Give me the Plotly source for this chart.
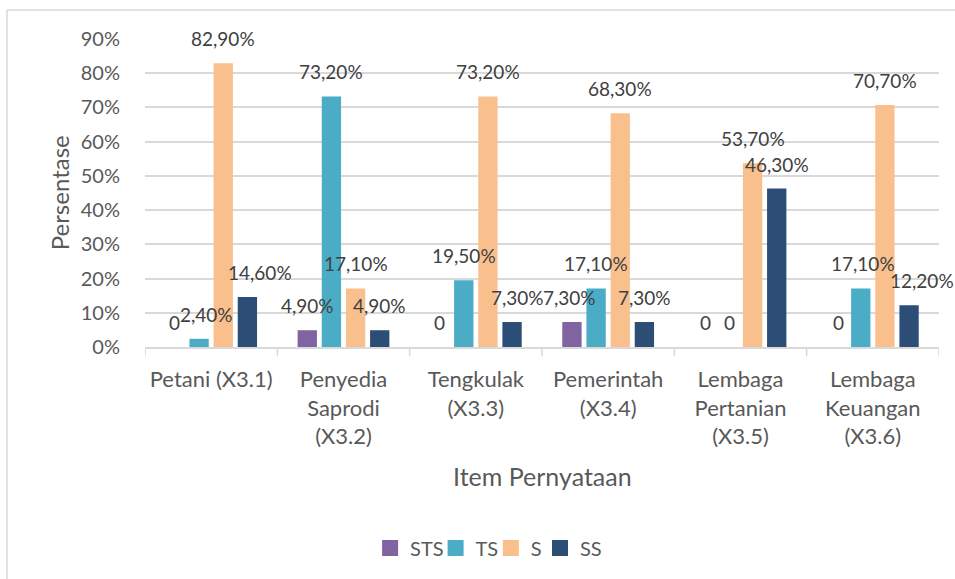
import plotly.graph_objects as go

categories = ["Petani (X3.1)", "Penyedia<br>Saprodi<br>(X3.2)", "Tengkulak<br>(X3.3)",
              "Pemerintah<br>(X3.4)", "Lembaga<br>Pertanian<br>(X3.5)", "Lembaga<br>Keuangan<br>(X3.6)"]
series_names = ["STS", "TS", "S", "SS"]
sts = [0.0, 4.9, 0.0, 7.3, 0.0, 0.0]
ts = [2.4, 73.2, 19.5, 17.1, 0.0, 17.1]
s = [82.9, 17.1, 73.2, 68.3, 53.7, 70.7]
ss = [14.6, 4.9, 7.3, 7.3, 46.3, 12.2]
y_ticks = [0, 10, 20, 30, 40, 50, 60, 70, 80, 90]

colors = ["#8064A2", "#4BACC6", "#F9C08E", "#2C4D75"]
# label horizontal nudges (px) per series per category, as placed in the reference
label_dx = [[0, 0, 0, -2, 1, 2],
            [7, 0, 0, 0, 1, 2],
            [0, 0, 0, 0, 0, 0],
            [13, 0, 5, 0, 0, 13]]
# legend entry positions (paper x, left edge of each entry)
legend_x = [0.2835, 0.366, 0.4356, 0.4975]

FONT = "Lato"
GREY = "#595959"
values = [sts, ts, s, ss]

def fmt(v):
    if v == 0:
        return "0"
    return f"{v:.2f}".replace(".", ",") + "%"

fig = go.Figure()
for name, vals, col in zip(series_names, values, colors):
    fig.add_trace(go.Bar(name=name, x=list(range(len(categories))), y=[v / 100 for v in vals],
                         marker=dict(color=col, line=dict(width=0)), showlegend=False))
# legend entries with square swatches, one legend each so spacing can follow the reference
legend_keys = ["legend", "legend2", "legend3", "legend4"]
for name, col, lk in zip(series_names, colors, legend_keys):
    fig.add_trace(go.Scatter(name=name, x=[None], y=[None], mode="markers", legend=lk,
                             marker=dict(symbol="square", size=18, color=col), showlegend=True))

bargap = 0.27
slot = (1 - bargap) / 4
annotations = []
for si, vals in enumerate(values):
    off = -(1 - bargap) / 2 + slot * (si + 0.5)
    for ci, v in enumerate(vals):
        annotations.append(dict(x=ci + off, y=v / 100, text=fmt(v), showarrow=False,
                                xref="x", yref="y", yanchor="bottom", yshift=11,
                                xshift=label_dx[si][ci],
                                font=dict(family=FONT, size=19, color="#404040")))
annotations.append(dict(text="Persentase", textangle=-90, xref="paper", yref="paper",
                        x=-0.108, y=0.5, xanchor="center", yanchor="middle", showarrow=False,
                        font=dict(family=FONT, size=24, color=GREY)))
annotations.append(dict(text="Item Pernyataan", xref="paper", yref="paper",
                        x=0.5, y=-0.419, xanchor="center", yanchor="middle", showarrow=False,
                        font=dict(family=FONT, size=25, color=GREY)))

legend_common = dict(orientation="h", xanchor="left", y=-0.653, yanchor="middle",
                     font=dict(family=FONT, size=20, color=GREY), itemwidth=30,
                     bgcolor="rgba(0,0,0,0)", borderwidth=0)
legends = {lk: dict(legend_common, x=lx) for lk, lx in zip(legend_keys, legend_x)}

fig.update_layout(
    width=955, height=579,
    margin=dict(l=145, r=16, t=39, b=232, autoexpand=False),
    paper_bgcolor="white", plot_bgcolor="white",
    barmode="group", bargap=bargap, bargroupgap=0.2,
    font=dict(family=FONT, size=19, color=GREY),
    annotations=annotations,
    showlegend=True,
    **legends,
    shapes=[
        dict(type="line", xref="paper", yref="paper", x0=-0.1738, x1=1.03, y0=1.094, y1=1.094,
             line=dict(color="#D9D9D9", width=1.5)),
        dict(type="line", xref="paper", yref="paper", x0=-0.1738, x1=-0.1738, y0=1.094, y1=-0.8,
             line=dict(color="#D9D9D9", width=1.5)),
    ],
)
fig.update_xaxes(
    tickmode="array", tickvals=list(range(len(categories))), ticktext=categories,
    range=[-0.5, len(categories) - 0.5], automargin=False,
    showline=True, linecolor="#D9D9D9", linewidth=1.5,
    ticks="", showgrid=False, ticklabelstandoff=12,
    tickfont=dict(family=FONT, size=22, color=GREY),
)
fig.update_yaxes(
    range=[0, 0.9], tickvals=[t / 100 for t in y_ticks], ticktext=[f"{t}%" for t in y_ticks],
    showgrid=True, gridcolor="#D9D9D9", gridwidth=1.5, zeroline=False, automargin=False,
    ticklabelstandoff=24,
    tickfont=dict(family=FONT, size=20, color=GREY),
)
# category boundary tick marks
for b in range(len(categories) + 1):
    fig.add_shape(type="line", xref="x", yref="paper", x0=b - 0.5, x1=b - 0.5, y0=0, y1=-0.03,
                  line=dict(color="#D9D9D9", width=1.5))

fig.write_html("out.html", config={"displayModeBar": False},
               post_script="document.body.style.margin='0';")
